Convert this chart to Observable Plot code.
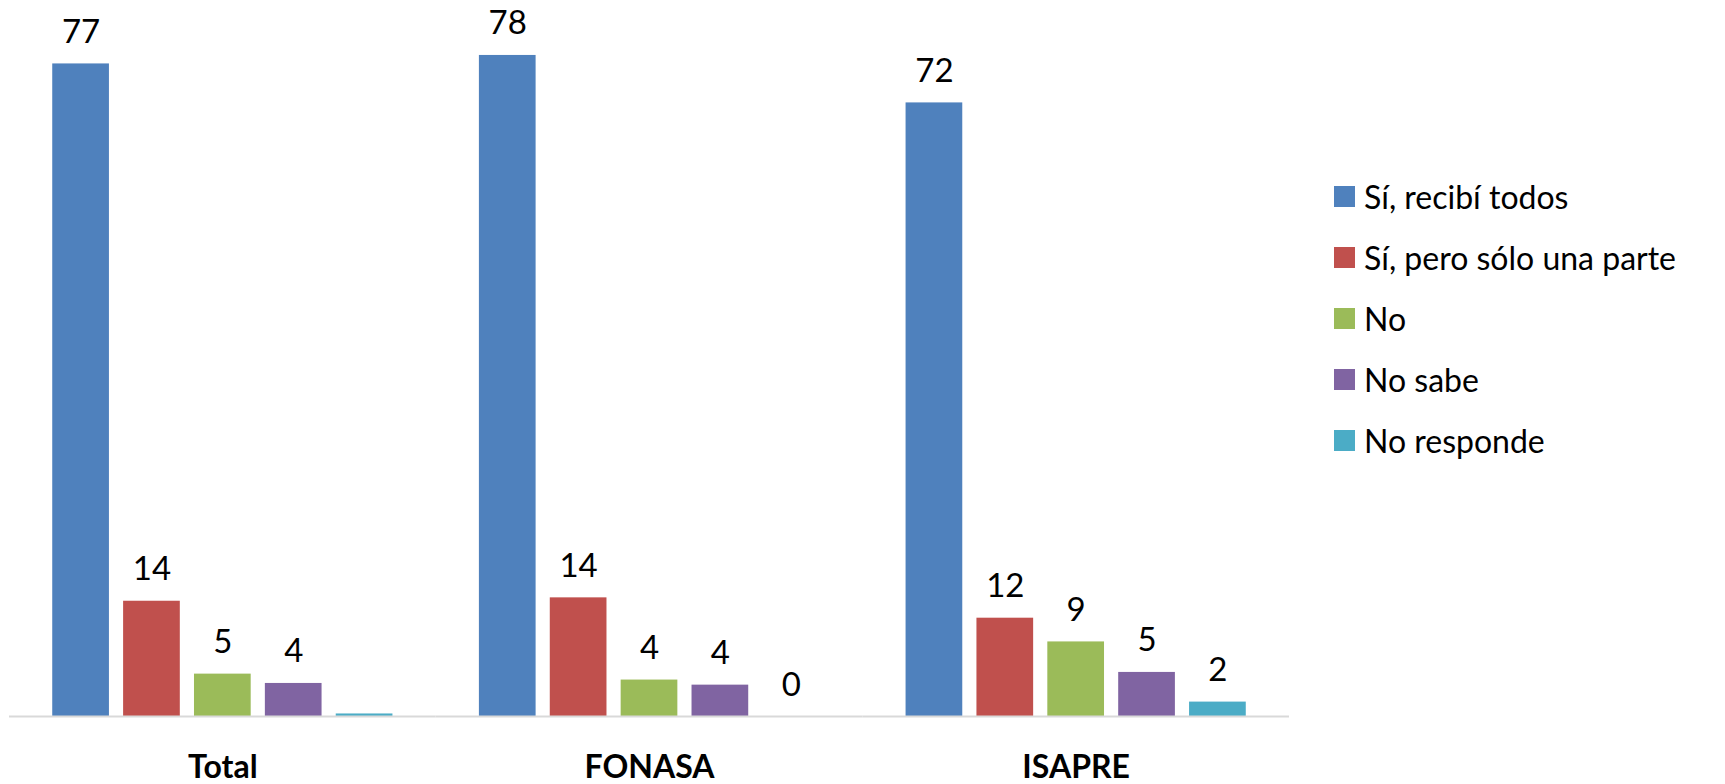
<!DOCTYPE html>
<html><head><meta charset="utf-8">
<script src="https://cdn.jsdelivr.net/npm/d3@7"></script>
<script src="https://cdn.jsdelivr.net/npm/@observablehq/plot@0.6"></script>
<style>
body{margin:0;background:#fff;font-family:Lato,sans-serif;}
#wrap{position:relative;width:1725px;height:784px;overflow:hidden;}
#legend{position:absolute;left:1334px;top:166px;}
.row{display:flex;align-items:center;height:61px;font-size:32px;color:#000;white-space:nowrap;}
.sw{width:21px;height:21px;margin-right:9px;flex:none;}
g[aria-label="fx-axis tick label"] text{font-weight:bold;}
svg{overflow:visible;}
</style></head><body><div id="wrap"></div>
<script>
const groups = ["Total","FONASA","ISAPRE"];
const series = ["Sí, recibí todos","Sí, pero sólo una parte","No","No sabe","No responde"];
const colors = ["#4F81BD","#C0504D","#9BBB59","#8064A2","#4BACC6"];
const totalValues = [77, 13.6, 5, 3.9, 0.3];
const fonasaValues = [78, 14, 4.3, 3.7, 0];
const isapreValues = [72.4, 11.6, 8.8, 5.2, 1.7];
const hiddenLabels = [["Total","No responde"]];

const valuesByGroup = {Total: totalValues, FONASA: fonasaValues, ISAPRE: isapreValues};
const fmt = d3.format(".0f");
const data = [];
for (const g of groups) {
  valuesByGroup[g].forEach((v, i) => {
    const hidden = hiddenLabels.some(([hg, hs]) => hg === g && hs === series[i]);
    data.push({group: g, series: series[i], value: v, label: hidden ? "" : fmt(v)});
  });
}

const chart = Plot.plot({
  width: 1725, height: 784,
  marginLeft: 9, marginRight: 436, marginTop: 38, marginBottom: 68,
  fx: {domain: groups, padding: 0, label: null, round: false},
  x: {domain: series, paddingInner: 0.2, paddingOuter: 0.61, axis: null, round: false},
  y: {domain: [0, 80], axis: null},
  color: {domain: series, range: colors},
  style: {fontFamily: "Lato, sans-serif", background: "#fff", color: "#000"},
  marks: [
    Plot.axisFx({anchor: "bottom", tickSize: 0, tickPadding: 39, fontSize: 32, fontWeight: "bold", label: null, fill: "#000"}),
    Plot.barY(data, {fx: "group", x: "series", y: "value", fill: "series"}),
    Plot.ruleY([0], {stroke: "#d9d9d9", strokeWidth: 2}),
    Plot.text(data.filter(d => d.label !== ""), {fx: "group", x: "series", y: "value", text: "label", dy: -21, lineAnchor: "bottom", fontSize: 33, fill: "#000"})
  ]
});
const wrap = document.getElementById("wrap");
wrap.appendChild(chart);

const legend = document.createElement("div");
legend.id = "legend";
series.forEach((s, i) => {
  const row = document.createElement("div");
  row.className = "row";
  const sw = document.createElement("span");
  sw.className = "sw";
  sw.style.background = colors[i];
  const t = document.createElement("span");
  t.textContent = s;
  row.appendChild(sw); row.appendChild(t);
  legend.appendChild(row);
});
wrap.appendChild(legend);
</script></body></html>
